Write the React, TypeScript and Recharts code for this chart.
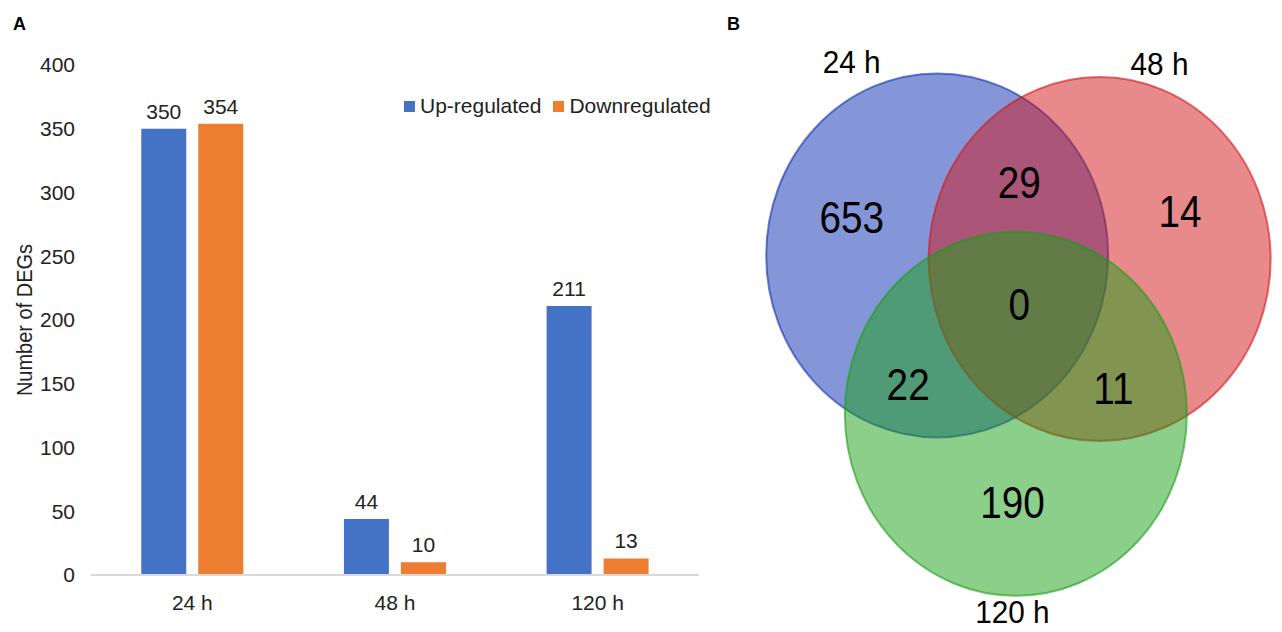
import React from 'react';
import {
  BarChart,
  Bar,
  XAxis,
  YAxis,
  LabelList,
  Legend,
  ScatterChart,
  Scatter,
} from 'recharts';

// Panel A: DEG counts
const CATEGORIES = ['24 h', '48 h', '120 h'];
const SERIES_NAMES = ['Up-regulated', 'Downregulated'];
const UP_REGULATED = [350, 44, 211];
const DOWN_REGULATED = [354, 10, 13];
const Y_TICKS = [0, 50, 100, 150, 200, 250, 300, 350, 400];

// Panel B: Venn sets (centres in circle-radius units) and region counts
const SET_NAMES = ['24 h', '48 h', '120 h'];
const SET_CENTER_X = [0, 0.95, 0.46];
const SET_CENTER_Y = [0, -0.02, -0.87];
const SET_NAME_X = [-0.5, 1.3, 0.44];
const SET_NAME_Y = [1.06, 1.05, -1.96];
const REGION_COUNTS = [653, 29, 14, 22, 0, 11, 190];
const REGION_X = [-0.5, 0.48, 1.42, -0.17, 0.48, 1.03, 0.44];
const REGION_Y = [0.21, 0.4, 0.24, -0.71, -0.27, -0.73, -1.36];

const FONT = '"Liberation Sans", Arial, Helvetica, sans-serif';
const TEXT = '#222';
const BLUE = '#4472C4';
const ORANGE = '#ED7D31';
const SET_FILLS = ['#0b2db1', '#d11519', '#199f15'];

// venn scale: pixels per radius unit
const UNIT_X = 171;
const UNIT_Y = 182;
const VX: [number, number] = [-1.2, 2.1];
const VY: [number, number] = [-2.1, 1.2];

const barData = CATEGORIES.map((name, i) => ({
  name,
  up: UP_REGULATED[i],
  down: DOWN_REGULATED[i],
}));

const setData = SET_NAMES.map((name, i) => ({
  name,
  x: SET_CENTER_X[i],
  y: SET_CENTER_Y[i],
}));
const setLabelData = SET_NAMES.map((label, i) => ({
  label,
  x: SET_NAME_X[i],
  y: SET_NAME_Y[i],
}));
const regionData = REGION_COUNTS.map((n, i) => ({
  label: String(n),
  x: REGION_X[i],
  y: REGION_Y[i],
}));

const SetShape = (props: any) => (
  <ellipse
    cx={props.cx}
    cy={props.cy}
    rx={UNIT_X}
    ry={UNIT_Y}
    fill={props.fill}
    fillOpacity={0.5}
    stroke={props.fill}
    strokeOpacity={0.6}
    strokeWidth={2}
  />
);

const textShape = (size: number, sx: number) => (props: any) => (
  <text
    transform={`translate(${props.cx},${props.cy}) scale(${sx},1)`}
    textAnchor="middle"
    dominantBaseline="central"
    fontSize={size}
    fontFamily={FONT}
    fill="#000"
  >
    {props.payload.label}
  </text>
);

const renderLegend = (props: any) => {
  const items = [...(props.payload || [])].sort(
    (a: any, b: any) => SERIES_NAMES.indexOf(a.value) - SERIES_NAMES.indexOf(b.value)
  );
  return (
    <div
      style={{
        display: 'flex',
        alignItems: 'center',
        fontSize: 21,
        lineHeight: '24px',
        color: TEXT,
        whiteSpace: 'nowrap',
        fontFamily: FONT,
      }}
    >
      {items.map((entry: any, i: number) => (
        <span
          key={entry.value}
          style={{ display: 'flex', alignItems: 'center', marginRight: i < items.length - 1 ? 12 : 0 }}
        >
          <span style={{ width: 11, height: 11, background: entry.color, marginRight: 5 }} />
          {entry.value}
        </span>
      ))}
    </div>
  );
};

const yTitle = (props: any) => {
  const vb = props.viewBox;
  const x = vb.x + 24;
  const y = vb.y + vb.height / 2;
  return (
    <text
      transform={`translate(${x},${y}) rotate(-90) scale(1,1.1)`}
      textAnchor="middle"
      dominantBaseline="central"
      fontSize={20}
      fontFamily={FONT}
      fill={TEXT}
    >
      Number of DEGs
    </text>
  );
};

const panelLetter = (left: number): React.CSSProperties => ({
  position: 'absolute',
  left,
  top: 15,
  fontSize: 18,
  lineHeight: '18px',
  fontWeight: 'bold',
  fontFamily: FONT,
  color: '#000',
});

export default function App() {
  const vennW = (VX[1] - VX[0]) * UNIT_X;
  const vennH = (VY[1] - VY[0]) * UNIT_Y;
  return (
    <div
      style={{
        position: 'absolute',
        left: 0,
        top: 0,
        width: 1282,
        height: 632,
        overflow: 'hidden',
        background: '#fff',
        fontFamily: FONT,
      }}
    >
      <div style={panelLetter(13)}>A</div>
      <div style={panelLetter(727)}>B</div>

      <div style={{ position: 'absolute', left: 0, top: 0 }}>
        <BarChart
          width={720}
          height={632}
          data={barData}
          margin={{ top: 65, right: 21, bottom: 0, left: 0 }}
          barCategoryGap="24.8%"
          barGap={12}
        >
          <XAxis
            dataKey="name"
            height={57}
            axisLine={{ stroke: '#d9d9d9', strokeWidth: 2 }}
            tickLine={false}
            tickSize={0}
            tickMargin={20}
            tick={{ fill: TEXT, fontSize: 21, fontFamily: FONT }}
          />
          <YAxis
            width={91}
            domain={[0, 400]}
            ticks={Y_TICKS}
            axisLine={false}
            tickLine={false}
            tickSize={0}
            tickMargin={16}
            tick={{ fill: TEXT, fontSize: 21, fontFamily: FONT }}
            label={yTitle}
          />
          <Legend
            layout="vertical"
            align="center"
            verticalAlign="middle"
            itemSorter={null as any}
            wrapperStyle={{ top: 94, left: 404, width: 'auto', height: 'auto' }}
            content={renderLegend}
          />
          <Bar dataKey="up" name={SERIES_NAMES[0]} fill={BLUE} isAnimationActive={false}>
            <LabelList dataKey="up" position="top" offset={10} fill={TEXT} fontSize={21} fontFamily={FONT} />
          </Bar>
          <Bar dataKey="down" name={SERIES_NAMES[1]} fill={ORANGE} isAnimationActive={false}>
            <LabelList dataKey="down" position="top" offset={10} fill={TEXT} fontSize={21} fontFamily={FONT} />
          </Bar>
        </BarChart>
      </div>

      <div style={{ position: 'absolute', left: 937 + VX[0] * UNIT_X, top: 255 - VY[1] * UNIT_Y }}>
        <ScatterChart width={vennW} height={vennH} margin={{ top: 0, right: 0, bottom: 0, left: 0 }}>
          <XAxis type="number" dataKey="x" domain={VX} allowDataOverflow hide />
          <YAxis type="number" dataKey="y" domain={VY} allowDataOverflow hide />
          {setData.map((d, i) => (
            <Scatter
              key={d.name}
              data={[d]}
              fill={SET_FILLS[i]}
              shape={SetShape}
              isAnimationActive={false}
            />
          ))}
          <Scatter data={regionData} shape={textShape(44, 0.88)} isAnimationActive={false} />
          <Scatter data={setLabelData} shape={textShape(32, 0.93)} isAnimationActive={false} />
        </ScatterChart>
      </div>
    </div>
  );
}
